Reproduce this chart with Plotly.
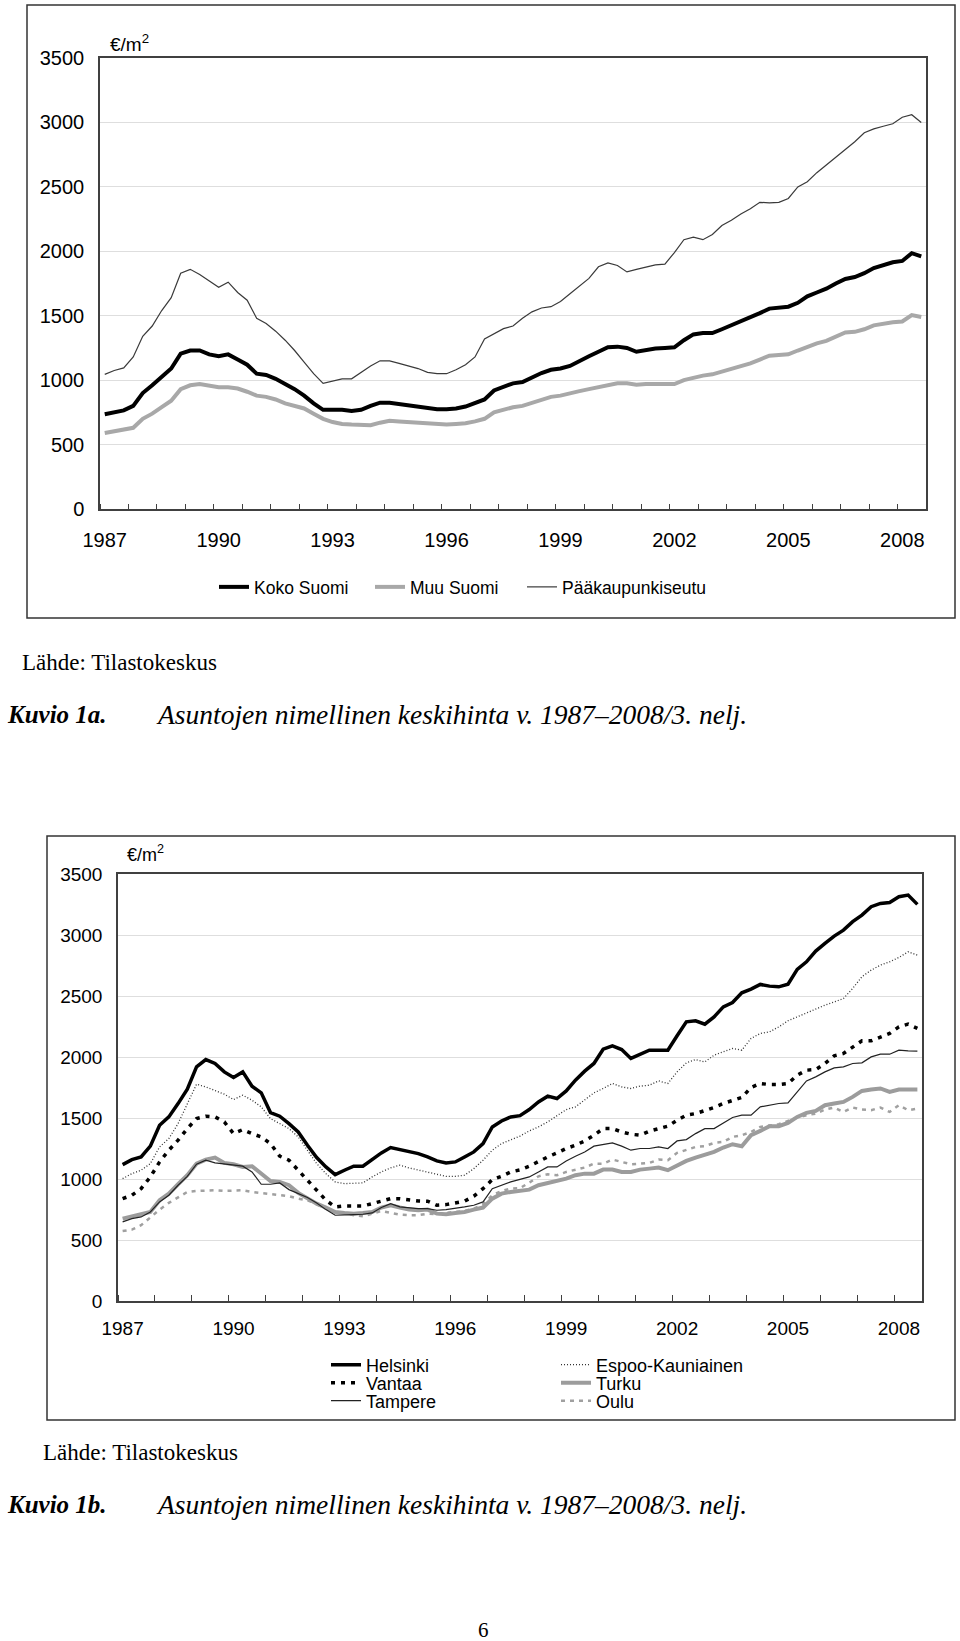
import plotly.graph_objects as go

W, H = 960, 1641
OFF = 0  # body margin is removed below, so the figure sits at the page origin


def px(x):
    return (x - OFF) / W


def py(y):
    return 1 - (y - OFF) / H


# ---------------- data ----------------
quarter_index = list(range(87))  # 1987Q1 ... 2008Q3
year_tick_pos = list(range(0, 87, 12))
year_labels = ["1987", "1990", "1993", "1996", "1999", "2002", "2005", "2008"]
y_ticks = [0, 500, 1000, 1500, 2000, 2500, 3000, 3500]

koko_suomi = [735, 750, 765, 800, 900, 960, 1030, 1090, 1205, 1230, 1230, 1200,
              1185, 1200, 1160, 1120, 1050, 1040, 1010, 970, 930, 880, 820, 770,
              770, 770, 760, 770, 800, 825, 825, 815, 810, 800, 790, 775,
              775, 780, 795, 820, 850, 920, 950, 975, 985, 1020, 1055, 1080,
              1090, 1110, 1150, 1185, 1220, 1255, 1260, 1250, 1220, 1235, 1245, 1250,
              1255, 1310, 1355, 1365, 1365, 1395, 1425, 1455, 1485, 1520, 1555, 1560,
              1570, 1600, 1650, 1680, 1710, 1750, 1785, 1800, 1830, 1870, 1895, 1915,
              1925, 1985, 1960]
muu_suomi = [590, 605, 615, 630, 700, 740, 790, 840, 930, 960, 970, 955,
             945, 945, 935, 910, 880, 870, 850, 820, 800, 780, 740, 700,
             675, 660, 655, 650, 650, 670, 685, 680, 675, 670, 670, 660,
             655, 660, 665, 680, 700, 750, 770, 790, 800, 825, 850, 870,
             880, 900, 915, 930, 945, 965, 975, 975, 965, 970, 970, 970,
             970, 1000, 1020, 1035, 1045, 1065, 1085, 1105, 1130, 1160, 1190, 1195,
             1200, 1230, 1260, 1285, 1305, 1335, 1370, 1375, 1395, 1425, 1440, 1450,
             1455, 1505, 1490]
paakaupunkiseutu = [1045, 1075, 1095, 1180, 1340, 1420, 1540, 1640, 1830, 1860, 1820, 1770,
                    1720, 1760, 1680, 1620, 1480, 1440, 1380, 1310, 1230, 1140, 1050, 975,
                    990, 1010, 1010, 1060, 1110, 1150, 1150, 1130, 1110, 1090, 1060, 1050,
                    1050, 1080, 1120, 1180, 1320, 1360, 1400, 1420, 1480, 1530, 1560, 1570,
                    1610, 1670, 1730, 1790, 1880, 1910, 1890, 1840, 1860, 1880, 1895, 1900,
                    1990, 2090, 2110, 2090, 2130, 2200, 2240, 2290, 2330, 2380, 2375, 2380,
                    2410, 2500, 2540, 2610, 2670, 2730, 2790, 2850, 2920, 2950, 2970, 2990,
                    3040, 3060, 3000]

helsinki = [1118, 1159, 1181, 1269, 1441, 1509, 1618, 1736, 1919, 1979, 1947, 1878,
            1832, 1878, 1761, 1706, 1545, 1515, 1454, 1386, 1277, 1176, 1099, 1036,
            1072, 1105, 1105, 1159, 1214, 1258, 1241, 1222, 1208, 1181, 1148, 1132,
            1140, 1181, 1222, 1290, 1427, 1476, 1509, 1519, 1569, 1632, 1679, 1660,
            1722, 1810, 1884, 1947, 2064, 2092, 2061, 1988, 2020, 2056, 2056, 2056,
            2174, 2288, 2297, 2269, 2329, 2411, 2447, 2526, 2556, 2595, 2581, 2575,
            2597, 2718, 2780, 2868, 2931, 2991, 3040, 3109, 3163, 3232, 3259, 3267,
            3314, 3327, 3251]
espoo_kauniainen = [1003, 1044, 1072, 1126, 1263, 1331, 1454, 1618, 1777, 1755, 1728, 1695,
                    1651, 1687, 1646, 1591, 1495, 1454, 1413, 1345, 1236, 1126, 1044, 976,
                    962, 968, 968, 1017, 1058, 1091, 1113, 1091, 1072, 1058, 1039, 1022,
                    1022, 1031, 1085, 1154, 1236, 1290, 1318, 1352, 1394, 1427, 1468, 1515,
                    1569, 1591, 1646, 1706, 1742, 1783, 1755, 1742, 1761, 1769, 1804, 1783,
                    1878, 1952, 1979, 1960, 2015, 2042, 2070, 2056, 2152, 2193, 2206, 2247,
                    2297, 2329, 2362, 2389, 2425, 2452, 2479, 2562, 2658, 2712, 2753, 2780,
                    2816, 2862, 2835]
vantaa = [839, 867, 921, 1017, 1140, 1236, 1318, 1413, 1495, 1515, 1509, 1468,
          1372, 1405, 1372, 1345, 1290, 1187, 1154, 1072, 990, 908, 826, 771,
          779, 779, 779, 798, 820, 839, 839, 826, 820, 818, 785, 790,
          804, 818, 859, 921, 995, 1022, 1058, 1075, 1105, 1146, 1181, 1214,
          1250, 1277, 1312, 1359, 1413, 1413, 1386, 1367, 1359, 1392, 1413, 1433,
          1482, 1523, 1536, 1558, 1586, 1619, 1640, 1668, 1750, 1783, 1774, 1774,
          1783, 1851, 1892, 1897, 1947, 2010, 2029, 2083, 2133, 2133, 2160, 2193,
          2247, 2269, 2234]
turku = [675, 694, 711, 730, 826, 880, 957, 1031, 1126, 1159, 1176, 1132,
         1121, 1099, 1105, 1044, 984, 976, 949, 886, 839, 798, 766, 730,
         722, 716, 722, 730, 766, 785, 766, 749, 744, 749, 716, 711,
         722, 730, 749, 766, 839, 880, 894, 901, 913, 949, 968, 984,
         1003, 1031, 1044, 1044, 1077, 1077, 1058, 1058, 1077, 1085, 1094, 1072,
         1113, 1148, 1176, 1195, 1222, 1258, 1285, 1269, 1359, 1394, 1433, 1433,
         1460, 1509, 1542, 1558, 1605, 1619, 1632, 1673, 1722, 1733, 1742, 1714,
         1733, 1733, 1733]
tampere = [648, 675, 689, 730, 812, 867, 949, 1022, 1121, 1154, 1132, 1121,
           1113, 1105, 1058, 957, 957, 968, 913, 880, 848, 804, 749, 703,
           703, 708, 711, 722, 766, 798, 771, 763, 757, 757, 744, 749,
           757, 771, 785, 812, 921, 949, 976, 997, 1017, 1058, 1099, 1099,
           1148, 1187, 1222, 1269, 1285, 1296, 1269, 1236, 1250, 1250, 1263, 1250,
           1312, 1323, 1372, 1413, 1413, 1460, 1504, 1523, 1523, 1591, 1605, 1619,
           1624, 1714, 1804, 1837, 1878, 1911, 1919, 1947, 1952, 2001, 2023, 2023,
           2056, 2050, 2048]
oulu = [574, 585, 621, 689, 749, 804, 848, 894, 902, 908, 908, 902,
        902, 908, 894, 886, 880, 867, 859, 839, 826, 793, 757, 730,
        722, 703, 694, 716, 738, 722, 708, 703, 703, 716, 711, 722,
        730, 738, 757, 793, 867, 902, 921, 925, 970, 1022, 1039, 1031,
        1058, 1077, 1094, 1126, 1126, 1159, 1140, 1121, 1126, 1132, 1159, 1154,
        1214, 1236, 1263, 1269, 1296, 1304, 1345, 1359, 1386, 1427, 1441, 1449,
        1476, 1504, 1523, 1536, 1569, 1586, 1550, 1586, 1569, 1564, 1586, 1550,
        1605, 1564, 1577]

# ---------------- figure ----------------
SANS = "Liberation Sans, Arial, sans-serif"
SERIF = "Liberation Serif, Times New Roman, serif"
AXC = "#404040"

fig = go.Figure()

top_series = [
    ("Koko Suomi", koko_suomi, "#000000", 4, "solid", 111),
    ("Muu Suomi", muu_suomi, "#a8a8a8", 4, "solid", 107),
    ("Pääkaupunkiseutu", paakaupunkiseutu, "#3a3a3a", 1.2, "solid", 150),
]
for name, vals, col, wd, dash, lw in top_series:
    fig.add_trace(go.Scatter(x=quarter_index, y=vals, name=name, mode="lines",
                             line=dict(color=col, width=wd, dash=dash),
                             xaxis="x", yaxis="y", legend="legend", legendwidth=lw))

bottom_series = [
    ("Oulu", oulu, "#a0a0a0", 2.5, "4px,5px", "legend4", 2),
    ("Turku", turku, "#9c9c9c", 4, "solid", "legend3", 2),
    ("Tampere", tampere, "#222222", 1.2, "solid", "legend4", 1),
    ("Vantaa", vantaa, "#000000", 3.5, "4px,6px", "legend3", 1),
    ("Espoo-Kauniainen", espoo_kauniainen, "#333333", 1.3, "1px,2px", "legend2", 2),
    ("Helsinki", helsinki, "#000000", 3.5, "solid", "legend2", 1),
]
for name, vals, col, wd, dash, lg, rank in bottom_series:
    fig.add_trace(go.Scatter(x=quarter_index, y=vals, name=name, mode="lines",
                             line=dict(color=col, width=wd, dash=dash),
                             xaxis="x2", yaxis="y2", legend=lg, legendrank=rank,
                             legendwidth=185 if rank == 1 else 170))


def xaxis_cfg(domain, anchor, dtick_minor, fsize, standoff, mlen):
    return dict(domain=domain, anchor=anchor, range=[-0.5, 86.5],
                tickmode="array", tickvals=year_tick_pos, ticktext=year_labels,
                ticks="", showgrid=False, zeroline=False, automargin=False,
                showline=True, linecolor=AXC, linewidth=1.5, mirror=True,
                tickfont=dict(family=SANS, size=fsize, color="#000"),
                ticklabelstandoff=standoff,
                minor=dict(tickmode="linear", tick0=-0.5, dtick=dtick_minor,
                           ticks="inside", ticklen=mlen, tickcolor=AXC,
                           tickwidth=1, showgrid=False))


def yaxis_cfg(domain, anchor, fsize, standoff):
    return dict(domain=domain, anchor=anchor, range=[0, 3500],
                tickmode="array", tickvals=y_ticks, ticks="", automargin=False,
                showgrid=True, gridcolor="#dedede", gridwidth=1, zeroline=False,
                showline=True, linecolor=AXC, linewidth=1.5, mirror=True,
                tickfont=dict(family=SANS, size=fsize, color="#000"),
                ticklabelstandoff=standoff)


legend_common = dict(orientation="h", xref="paper", yref="paper",
                     xanchor="left", yanchor="middle",
                     bgcolor="rgba(0,0,0,0)", borderwidth=0,
                     itemwidth=30, tracegroupgap=0)

fig.update_layout(
    width=W, height=H,
    margin=dict(l=0, r=0, t=0, b=0, pad=0, autoexpand=False),
    paper_bgcolor="white", plot_bgcolor="white",
    showlegend=True,
    xaxis=xaxis_cfg([px(100), px(926)], "y", 3, 20, 12, 5),
    yaxis=yaxis_cfg([py(509), py(58)], "x", 20, 10),
    xaxis2=xaxis_cfg([px(118), px(922)], "y2", 4, 19, 9, 6),
    yaxis2=yaxis_cfg([py(1301), py(874)], "x2", 19, 10),
    legend=dict(legend_common, x=px(214), y=py(587),
                font=dict(family=SANS, size=17.5, color="#000")),
    legend2=dict(legend_common, x=px(326), y=py(1365),
                 font=dict(family=SANS, size=18, color="#000")),
    legend3=dict(legend_common, x=px(326), y=py(1383),
                 font=dict(family=SANS, size=18, color="#000")),
    legend4=dict(legend_common, x=px(326), y=py(1401),
                 font=dict(family=SANS, size=18, color="#000")),
)

# frames around the two chart blocks
fig.add_shape(type="rect", xref="paper", yref="paper",
              x0=px(27), x1=px(955), y0=py(618), y1=py(5),
              line=dict(color="#333333", width=1.5), fillcolor="rgba(0,0,0,0)", layer="below")
fig.add_shape(type="rect", xref="paper", yref="paper",
              x0=px(47), x1=px(955), y0=py(1420), y1=py(836),
              line=dict(color="#333333", width=1.5), fillcolor="rgba(0,0,0,0)", layer="below")


def note(text, x, y, size, family, xanchor="left"):
    fig.add_annotation(text=text, xref="paper", yref="paper", x=px(x), y=py(y),
                       xanchor=xanchor, yanchor="middle", showarrow=False,
                       font=dict(family=family, size=size, color="#000"))


note("€/m<sup>2</sup>", 108, 43, 19, SANS)
note("€/m<sup>2</sup>", 125, 853, 18, SANS)

caption = "<i>Asuntojen nimellinen keskihinta v. 1987–2008/3. nelj.</i>"
note("Lähde: Tilastokeskus", 20, 662, 23, SERIF)
note("<b><i>Kuvio 1a.</i></b>", 5, 714, 25, SERIF)
note(caption, 154, 714, 27.5, SERIF)
note("Lähde: Tilastokeskus", 41, 1452, 23, SERIF)
note("<b><i>Kuvio 1b.</i></b>", 5, 1504, 25, SERIF)
note(caption, 154, 1504, 27.5, SERIF)
note("6", 483, 1630, 21, SERIF, xanchor="center")

fig.write_html("out.html",
               config={"displayModeBar": False},
               post_script="document.body.style.margin='0';"
                           "document.documentElement.style.overflow='hidden';")
